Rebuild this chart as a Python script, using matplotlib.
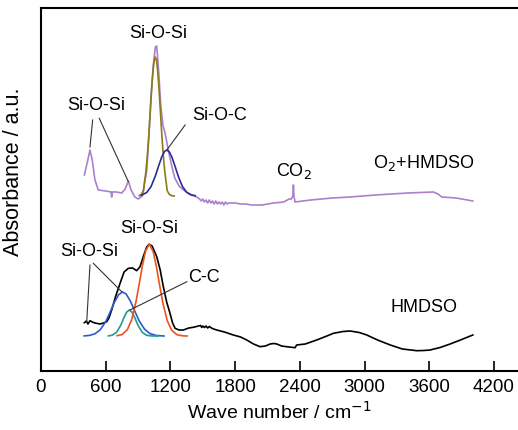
import numpy as np
import matplotlib
matplotlib.use("Agg")
import matplotlib.pyplot as plt

plt.rcParams['font.family'] = ['Liberation Sans', 'DejaVu Sans']

# O2+HMDSO spectrum (wave number, absorbance a.u.)
o2_wn = [402, 430, 454, 475, 500, 531, 600, 650, 655, 660, 700, 748, 780, 810, 835, 870,
         902, 940, 980, 1000, 1020, 1040, 1060, 1073, 1090, 1110, 1130, 1150, 1180, 1210, 1240,
         1280, 1320, 1380, 1444, 1470, 1485, 1500, 1515, 1530, 1545, 1560, 1575, 1590, 1605,
         1620, 1635, 1650, 1665, 1680, 1695, 1710, 1725, 1740, 1760, 1800, 1850, 1900,
         1950, 2050, 2154, 2250, 2300, 2320, 2335, 2340, 2345, 2355, 2500, 2700, 2865,
         3100, 3400, 3638, 3680, 3716, 3850, 4003]
o2_abs = [196, 209, 221, 211, 191, 181, 180, 179, 174, 179, 179, 178, 182, 190, 181, 174,
          172, 175, 200, 235, 275, 305, 324, 325, 301, 266, 246, 238, 221, 206, 193,
          185, 181, 177, 174, 172, 170, 172, 169, 171, 168, 171, 168, 170, 167,
          170, 167, 169, 167, 169, 166, 169, 167, 168, 168, 168, 167, 167,
          166, 166, 168, 169, 172, 172, 175, 186, 175, 169, 171, 173, 174,
          176, 178, 179, 177, 174, 173, 170]

# fitted components on O2+HMDSO
sios_o2_wn = [910, 930, 950, 960, 970, 980, 990, 1000, 1010, 1020, 1030, 1040, 1050,
              1060, 1070, 1080, 1090, 1100, 1110, 1120, 1130, 1140, 1150, 1170, 1190, 1210, 1235]
sios_o2_abs = [175.4, 176.6, 180.3, 189.5, 197.2, 207.7, 220.9, 236.5, 253.9, 271.8, 288.4, 302,
               310.9, 314, 310.9, 302, 288.4, 271.8, 253.9, 236.5, 220.9, 207.7, 197.2, 180.3,
               176.6, 175.4, 175]
sioc_wn = [930, 980, 1020, 1060, 1090, 1120, 1145, 1166, 1190, 1215, 1245, 1275, 1310,
           1350, 1390, 1430]
sioc_abs = [175.7, 178.5, 184.4, 195, 204.9, 214.3, 219.5, 221, 219.1, 213.5, 203.9, 194, 184.8,
            178.7, 176.1, 175.3]

# HMDSO spectrum
hm_wn = [402, 420, 435, 454, 475, 500, 547, 580, 609, 630, 655, 690, 733, 770, 810, 850,
         887, 918, 950, 980, 1001, 1030, 1073, 1105, 1134, 1165, 1196, 1220, 1243, 1280,
         1320, 1370, 1412, 1460, 1480, 1490, 1500, 1515, 1530, 1545, 1560, 1580, 1600,
         1629, 1700, 1783, 1850, 1907, 1970, 2031, 2080, 2124, 2160, 2186, 2230, 2278,
         2340, 2355, 2370, 2450, 2556, 2650, 2711, 2800, 2865, 2950, 3020, 3120, 3238,
         3350, 3484, 3550, 3607, 3700, 3793, 3900, 4003]
hm_abs = [48.3, 50, 47, 50.3, 49, 48, 47, 48, 49.3, 53, 61, 74, 87.7, 99, 102.7, 103,
          100.3, 104.3, 115, 124, 126.7, 125, 114.3, 101, 84.3, 69, 57.7, 48, 42.7, 41,
          41, 43, 43.7, 45, 45.5, 43.5, 45, 43.5, 45, 43, 44.5, 43, 42,
          41, 39, 36, 34, 31, 27, 24.3, 25, 27, 27.5, 27, 25, 24.3,
          23.5, 23.3, 26, 27, 31, 35, 37.7, 39.5, 40, 38.5, 36, 31, 26,
          22, 20.3, 20.5, 21, 23.5, 27, 31.5, 36]

# fitted components on HMDSO
sios1_wn = [400, 450, 500, 550, 600, 640, 680, 720, 757, 790, 830, 870, 910, 960, 1010, 1070, 1140]
sios1_abs = [35.1, 35.6, 37.2, 41.3, 49.4, 58.7, 68.6, 76.4, 79, 76.9, 69.6, 59.7, 50.2, 41.8,
             37.4, 35.5, 35]
cc_wn = [625, 660, 700, 740, 770, 795, 819, 845, 870, 900, 940, 980, 1020, 1085]
cc_abs = [35.1, 35.8, 38.6, 45.9, 53.6, 59, 61, 58.7, 53.1, 45.5, 38.4, 35.7, 35.1, 35]
sios2_wn = [705, 750, 800, 840, 880, 910, 940, 970, 1004, 1040, 1070, 1100, 1130, 1170,
            1210, 1260, 1310, 1355]
sios2_abs = [35.3, 36.4, 41.2, 51.1, 69, 86.8, 105.4, 120.1, 126.7, 119.3, 104.2, 85.6, 67.9,
             50.5, 40.9, 36.3, 35.2, 35]

fig = plt.figure(figsize=(5.18, 4.30), dpi=100)
ax = fig.add_axes([41 / 518, 1 - 371 / 430, 1 - 41 / 518, (371 - 8) / 430])

ax.plot(o2_wn, o2_abs, color='#ac80cc', lw=1.2)
ax.plot(sios_o2_wn, sios_o2_abs, color='#8a7c14', lw=1.2)
ax.plot(sioc_wn, sioc_abs, color='#2b2b9c', lw=1.2)

ax.plot(hm_wn, hm_abs, color='black', lw=1.2)
ax.plot(sios1_wn, sios1_abs, color='#2a5bcc', lw=1.2)
ax.plot(cc_wn, cc_abs, color='#1f9c8c', lw=1.2)
ax.plot(sios2_wn, sios2_abs, color='#f0521e', lw=1.2)

fs = 13
lc = '#333333'
# O2+HMDSO labels
ax.text(1089, 338, 'Si-O-Si', fontsize=fs, ha='center', va='center')
ax.text(510, 265, 'Si-O-Si', fontsize=fs, ha='center', va='center')
ax.plot([479, 454], [251, 224], color=lc, lw=0.8)
ax.plot([540, 810], [252.7, 189.3], color=lc, lw=0.8)
ax.text(1660, 255, 'Si-O-C', fontsize=fs, ha='center', va='center')
ax.plot([1336, 1166], [246, 221], color=lc, lw=0.8)
ax.text(2347, 200, 'CO$_2$', fontsize=fs, ha='center', va='center')
ax.text(3546, 208, 'O$_2$+HMDSO', fontsize=fs, ha='center', va='center')

# HMDSO labels
ax.text(1004, 142.7, 'Si-O-Si', fontsize=fs, ha='center', va='center')
ax.text(448, 120, 'Si-O-Si', fontsize=fs, ha='center', va='center')
ax.plot([454, 424], [106, 49.3], color=lc, lw=0.8)
ax.plot([485, 748], [107.7, 79.3], color=lc, lw=0.8)
ax.text(1506, 93.3, 'C-C', fontsize=fs, ha='center', va='center')
ax.plot([1352, 825], [89.3, 61], color=lc, lw=0.8)
ax.text(3546, 63.7, 'HMDSO', fontsize=fs, ha='center', va='center')

ax.set_xlim(0, 4422)
ax.set_ylim(0, 363)
ax.set_xticks(np.arange(0, 4201, 600))
ax.set_yticks([])
ax.tick_params(axis='x', direction='in', length=7, width=1.2, labelsize=13.5, pad=6)
for s in ['left', 'bottom', 'top']:
    ax.spines[s].set_linewidth(1.5)
ax.spines['right'].set_visible(False)

ax.set_xlabel('Wave number / cm$^{-1}$', fontsize=14, labelpad=3)
ax.set_ylabel('Absorbance / a.u.', fontsize=15.5)
ax.yaxis.set_label_coords(-0.036, 0.548)

fig.savefig('out.png', dpi=100)
